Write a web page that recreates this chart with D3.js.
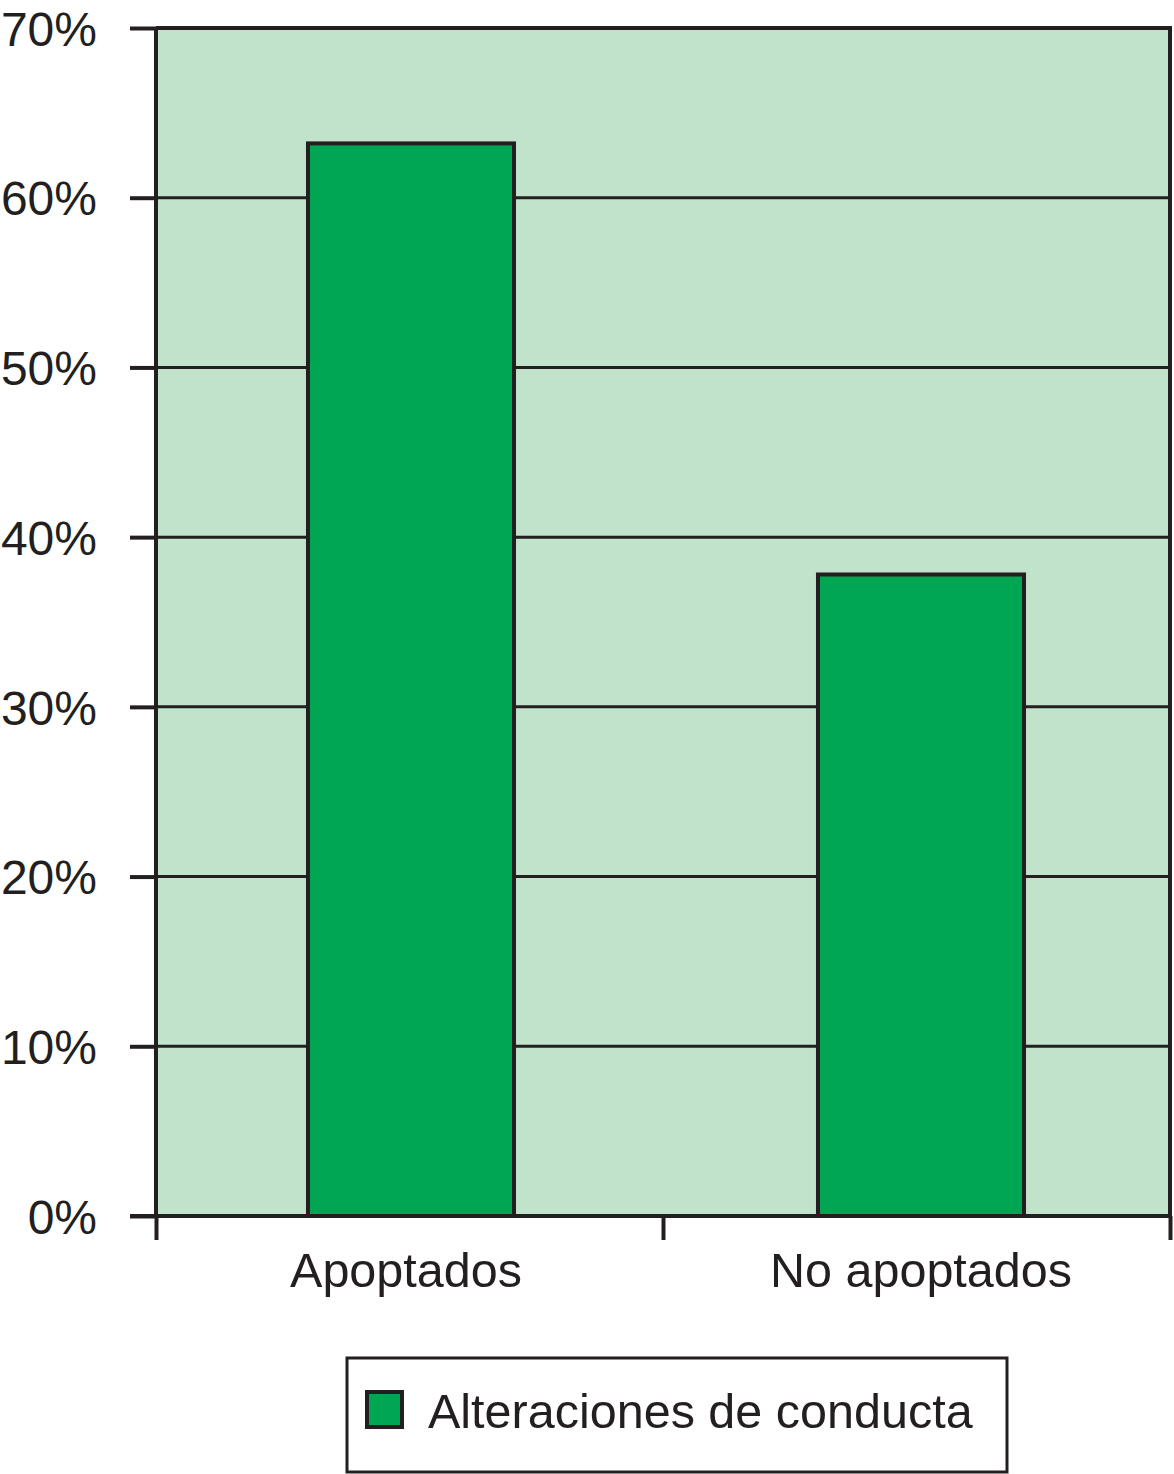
<!DOCTYPE html>
<html><head><meta charset="utf-8">
<script src="https://cdn.jsdelivr.net/npm/d3@7"></script>
<style>html,body{margin:0;padding:0;background:#fff;}svg{display:block;}</style>
</head><body>
<script>
const categories = ["Apoptados", "No apoptados"];
const values = [0.632, 0.378];
const yTicks = [0, 0.1, 0.2, 0.3, 0.4, 0.5, 0.6, 0.7];
const seriesName = "Alteraciones de conducta";

const W = 1174, H = 1474;
const L = 156, R = 1170, T = 28, B = 1216;
const ink = "#231f20", bg = "#c1e3cb", barFill = "#00a651";
const font = "'Liberation Sans', Arial, Helvetica, sans-serif";

const svg = d3.select("body").append("svg").attr("width", W).attr("height", H);

const y = d3.scaleLinear().domain([0, 0.7]).range([B, T]);
const x = d3.scaleBand().domain(categories).range([L, L + 1020]).paddingInner(0.596).paddingOuter(0.298);

// plot background
svg.append("rect").attr("x", L).attr("y", T).attr("width", R - L).attr("height", B - T).attr("fill", bg);

// gridlines
svg.append("g").selectAll("line").data(yTicks.filter(d => d > 0 && d < 0.7)).join("line")
  .attr("x1", L).attr("x2", R).attr("y1", d => y(d)).attr("y2", d => y(d))
  .attr("stroke", ink).attr("stroke-width", 3);

// top border
svg.append("line").attr("x1", L).attr("x2", R).attr("y1", y(0.7)).attr("y2", y(0.7))
  .attr("stroke", ink).attr("stroke-width", 4);

// bars
svg.append("g").selectAll("rect").data(categories).join("rect")
  .attr("x", d => x(d)).attr("width", x.bandwidth())
  .attr("y", (d, i) => y(values[i])).attr("height", (d, i) => y(0) - y(values[i]))
  .attr("fill", barFill).attr("stroke", ink).attr("stroke-width", 4);

// y axis
const yAxis = d3.axisLeft(y).tickValues(yTicks).tickFormat(d3.format(".0%")).tickSize(26).tickPadding(33);
const gy = svg.append("g").attr("transform", `translate(${L},0)`).call(yAxis);
gy.select(".domain").attr("stroke", ink).attr("stroke-width", 4).attr("d", `M0,${T}V${B}`);
gy.selectAll(".tick line").attr("stroke", ink).attr("stroke-width", 4);
gy.selectAll(".tick text").attr("fill", ink).style("font-family", font).style("font-size", "48px")
  .attr("dy", "0.36em");

// x axis (boundaries between bands)
const xb = d3.scaleLinear().domain([0, 2]).range([L, R]);
const gx = svg.append("g").attr("transform", `translate(0,${B})`)
  .call(d3.axisBottom(xb).tickValues([0, 1, 2]).tickFormat("").tickSize(24));
gx.select(".domain").attr("stroke", ink).attr("stroke-width", 4).attr("d", `M${L - 26},0H${R}`);
gx.selectAll(".tick line").attr("stroke", ink).attr("stroke-width", 4);

// right border
svg.append("line").attr("x1", R).attr("x2", R).attr("y1", T - 2).attr("y2", B)
  .attr("stroke", ink).attr("stroke-width", 4);

// category labels
svg.append("g").selectAll("text").data(categories).join("text")
  .attr("x", (d, i) => x(d) + x.bandwidth() / 2 - (i === 0 ? 5 : 0)).attr("y", 1287)
  .attr("text-anchor", "middle").attr("fill", ink)
  .style("font-family", font).style("font-size", "48.5px").text(d => d);

// legend
const lg = svg.append("g");
lg.append("rect").attr("x", 347).attr("y", 1358).attr("width", 660).attr("height", 114)
  .attr("fill", "#fff").attr("stroke", ink).attr("stroke-width", 3);
lg.append("rect").attr("x", 367).attr("y", 1392).attr("width", 35).attr("height", 35)
  .attr("fill", barFill).attr("stroke", ink).attr("stroke-width", 4);
lg.append("text").attr("x", 428).attr("y", 1428).attr("fill", ink)
  .style("font-family", font).style("font-size", "48.5px").text(seriesName);
</script>
</body></html>
